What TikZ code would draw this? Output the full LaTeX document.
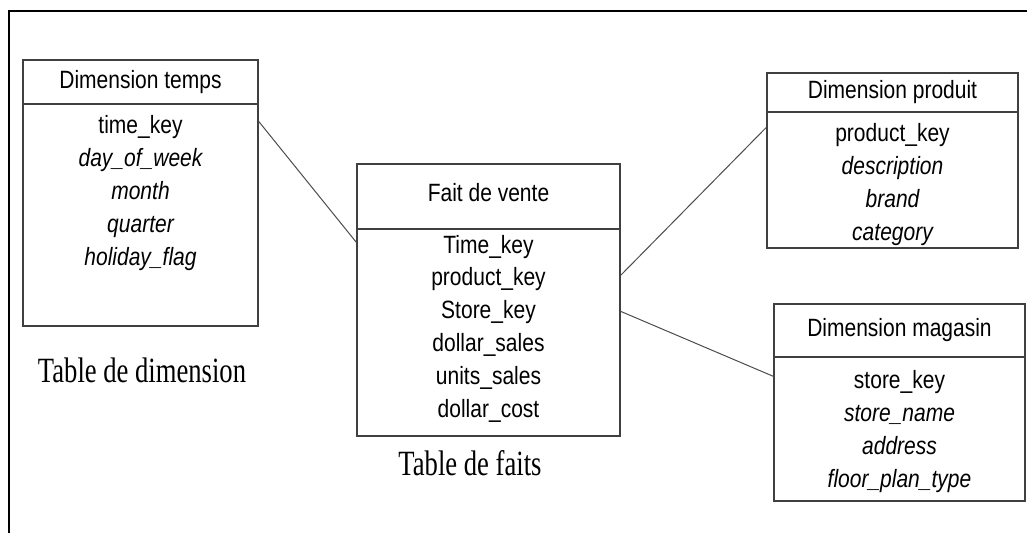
\documentclass[tikz,border=0pt]{standalone}
\usepackage{fontspec}
\newfontfamily\boxfont{Liberation Sans}[FakeStretch=0.84]
\newfontfamily\capfont{Liberation Serif}[FakeStretch=0.75]
\begin{document}
\begin{tikzpicture}[x=1pt,y=-1pt,
  frame/.style={line width=1.6pt,black},
  tbox/.style={draw=black!75,line width=1.3pt,inner sep=0pt,fill=white},
  title/.style={font=\boxfont\fontsize{25}{30}\selectfont},
  field/.style={font=\boxfont\fontsize{25}{30}\selectfont,anchor=base,inner sep=0pt},
  caption/.style={font=\capfont\fontsize{35.5}{42}\selectfont,anchor=base,inner sep=0pt},
  link/.style={draw=black!70,line width=1pt}]
\useasboundingbox (0,0) rectangle (1027,533);
% outer frame (top and left edges only)
\draw[frame] (9,533) -- (9,11) -- (1027,11);

% Dimension temps
\node[tbox,title,minimum width=235,minimum height=44] (tH) at (140.5,82) {Dimension temps};
\node[tbox,minimum width=235,minimum height=222] (tB) at (140.5,215) {};
\foreach [count=\i] \t in {time\_key,{\itshape day\_of\_week},{\itshape month},{\itshape quarter},{\itshape holiday\_flag}}
  \node[field] (tF\i) at (140.5,{133+33*(\i-1)}) {\t};
\node[caption] (tCap) at (142,382) {Table de dimension};

% Fait de vente
\node[tbox,minimum width=263,minimum height=65] (fH) at (488.5,196.5) {};
\node[title,inner sep=0pt] (fT) at (488.5,193) {Fait de vente};
\node[tbox,minimum width=263,minimum height=207] (fB) at (488.5,332.5) {};
\foreach [count=\i] \t in {Time\_key,product\_key,Store\_key,dollar\_sales,units\_sales,dollar\_cost}
  \node[field] (fF\i) at (488.5,{253+32.8*(\i-1)}) {\t};
\node[caption] (fCap) at (470,475) {Table de faits};

% Dimension produit
\node[tbox,title,minimum width=251,minimum height=39] (pH) at (892.5,92.5) {Dimension produit};
\node[tbox,minimum width=251,minimum height=136] (pB) at (892.5,180) {};
\foreach [count=\i] \t in {product\_key,{\itshape description},{\itshape brand},{\itshape category}}
  \node[field] (pF\i) at (892.5,{141+33*(\i-1)}) {\t};

% Dimension magasin
\node[tbox,title,minimum width=251,minimum height=53] (mH) at (899.5,330.5) {Dimension magasin};
\node[tbox,minimum width=251,minimum height=144] (mB) at (899.5,429) {};
\foreach [count=\i] \t in {store\_key,{\itshape store\_name},{\itshape address},{\itshape floor\_plan\_type}}
  \node[field] (mF\i) at (899.5,{388+33*(\i-1)}) {\t};

% links between the fact table and the dimensions
\draw[link] ([yshift=-18pt]tB.north east) -- ([yshift=-14pt]fB.north west);
\draw[link] ([yshift=-47pt]fB.north east) -- ([yshift=-16pt]pB.north west);
\draw[link] ([yshift=-83pt]fB.north east) -- ([yshift=-20pt]mB.north west);
\end{tikzpicture}
\end{document}
